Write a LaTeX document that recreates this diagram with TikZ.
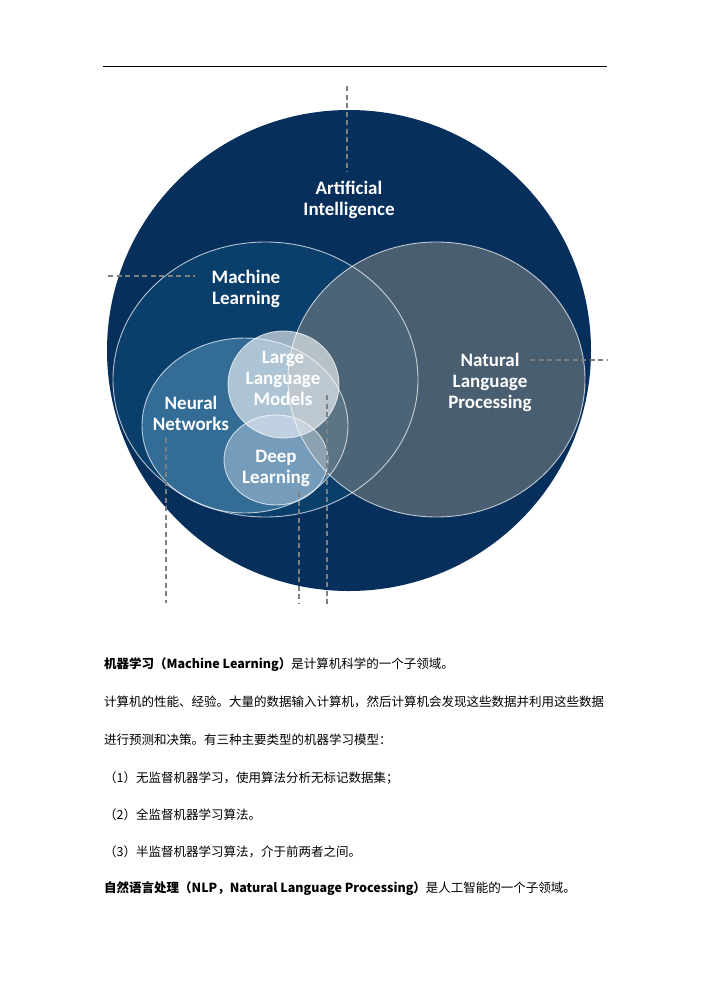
\documentclass[tikz,border=0pt]{standalone}
\usepackage{fontspec}
\setmainfont{Carlito}
\newfontfamily\cjk{Noto Sans CJK SC}
\definecolor{aicol}{HTML}{062F5C}
\definecolor{mlcol}{HTML}{0A3E6B}
\definecolor{nncol}{HTML}{336C95}
\definecolor{nlpcol}{HTML}{747C7F}
\definecolor{dlcol}{HTML}{DAE6F2}
\definecolor{leadcol}{HTML}{7F7F7F}
\begin{document}
\begin{tikzpicture}[x=1pt,y=-1pt,
  lbl/.style={text=white,font=\fontsize{19}{21}\selectfont\bfseries,align=center,inner sep=0pt},
  rim/.style={draw=white,draw opacity=0.7,line width=0.9pt},
  leader/.style={draw=leadcol,line width=1.2pt,dash pattern=on 5pt off 3.5pt},
  txt/.style={anchor=base west,inner sep=0pt,font=\cjk\fontsize{12.5}{15}\selectfont}]
\useasboundingbox (0,0) rectangle (710,1004);
\fill[white] (0,0) rectangle (710,1004);
% top rule
\coordinate (r1) at (103,66);
\coordinate (r2) at (607,66);
\draw[black,line width=1pt] (r1) -- (r2);
% fills
\fill[aicol] (349,350.5) ellipse [x radius=242, y radius=240.5];
\fill[mlcol] (265.5,379.5) ellipse [x radius=152.5, y radius=137.5];
\fill[nncol] (245,425.5) ellipse [x radius=103, y radius=87.5];
\fill[nlpcol,fill opacity=0.62] (436.5,379.5) ellipse [x radius=148.5, y radius=137.5];
\fill[white,fill opacity=0.6] (283.5,384.5) ellipse [x radius=55.5, y radius=53.5];
\fill[dlcol,fill opacity=0.4] (276,460) ellipse [x radius=52, y radius=45];
% rims
\draw[rim] (265.5,379.5) ellipse [x radius=152.5, y radius=137.5];
\draw[rim] (436.5,379.5) ellipse [x radius=148.5, y radius=137.5];
\draw[rim] (245,425.5) ellipse [x radius=103, y radius=87.5];
\draw[rim] (283.5,384.5) ellipse [x radius=55.5, y radius=53.5];
\draw[rim] (276,460) ellipse [x radius=52, y radius=45];
% labels
\node[lbl] (ai) at (349,200) {Artificial\\Intelligence};
\node[lbl] (ml) at (246,288.5) {Machine\\Learning};
\node[lbl] (llm) at (283,378) {Large\\Language\\Models};
\node[lbl] (nn) at (191,413.5) {Neural\\Networks};
\node[lbl] (dl) at (276,468) {Deep\\Learning};
\node[lbl] (nlp) at (490,382) {Natural\\Language\\Processing};
% leaders
\coordinate (a1) at (347,86);   \coordinate (a2) at (347,172);
\coordinate (b1) at (108,276);  \coordinate (b2) at (195,276);
\coordinate (c1) at (530,360);  \coordinate (c2) at (607,360);
\coordinate (d1) at (166,438);  \coordinate (d2) at (166,603);
\coordinate (e1) at (299,492);  \coordinate (e2) at (299,603);
\coordinate (f1) at (327,395);  \coordinate (f2) at (327,606);
\draw[leader] (a1) -- (a2);
\draw[leader] (b1) -- (b2);
\draw[leader] (c1) -- (c2);
\draw[leader] (d1) -- (d2);
\draw[leader] (e1) -- (e2);
\draw[leader] (f1) -- (f2);
% text
\node[txt] (t1) at (104,668) {{\bfseries 机器学习（Machine Learning）}是计算机科学的一个子领域。};
\node[txt] (t2) at (104,706) {计算机的性能、经验。大量的数据输入计算机，然后计算机会发现这些数据并利用这些数据};
\node[txt] (t3) at (104,744) {进行预测和决策。有三种主要类型的机器学习模型：};
\node[txt] (t4) at (104,782) {（1）无监督机器学习，使用算法分析无标记数据集；};
\node[txt] (t5) at (104,819) {（2）全监督机器学习算法。};
\node[txt] (t6) at (104,856) {（3）半监督机器学习算法，介于前两者之间。};
\node[txt] (t7) at (104,892) {{\bfseries 自然语言处理（NLP，Natural Language Processing）}是人工智能的一个子领域。};
\end{tikzpicture}
\end{document}
